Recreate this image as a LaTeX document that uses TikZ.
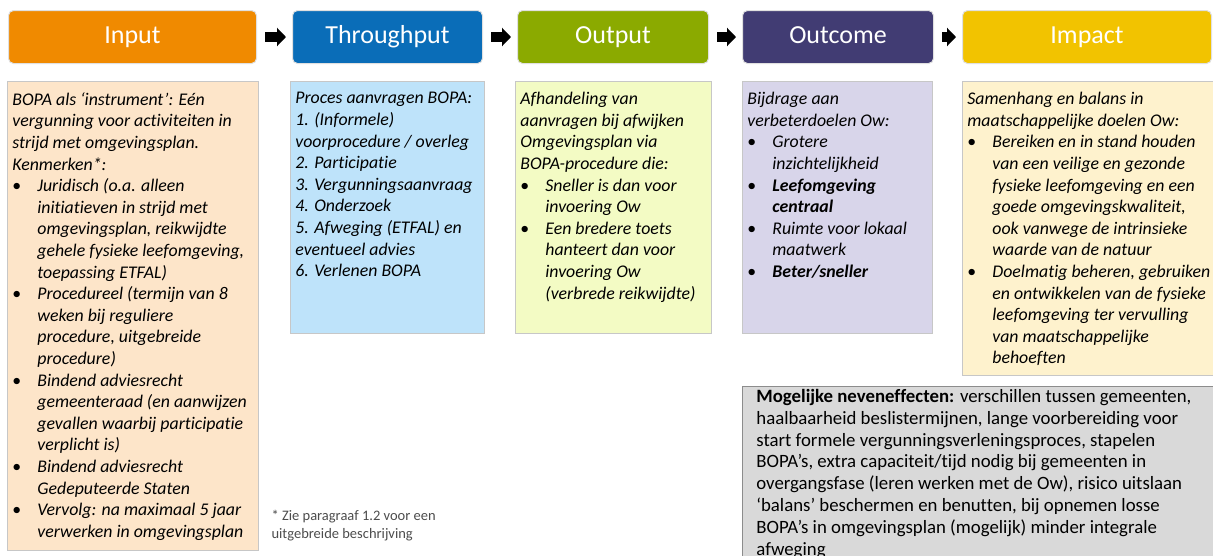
\documentclass[tikz,border=0pt]{standalone}
\usepackage{fontspec}
\setmainfont{Carlito}[Ligatures={NoCommon}]
\usepackage{enumitem}
\usetikzlibrary{arrows.meta}

\setlist[itemize]{nosep,leftmargin=25pt,labelwidth=20pt,labelsep=5pt,align=left,label={\upshape\textbullet}}

\definecolor{inHead}{HTML}{F08A00}
\definecolor{thrHead}{HTML}{0A6DB8}
\definecolor{outHead}{HTML}{8BAA00}
\definecolor{ocHead}{HTML}{413C73}
\definecolor{impHead}{HTML}{F2C300}
\definecolor{inFill}{HTML}{FDE5C9}
\definecolor{thrFill}{HTML}{BEE3FA}
\definecolor{outFill}{HTML}{F3FBC4}
\definecolor{ocFill}{HTML}{D8D5EA}
\definecolor{impFill}{HTML}{FEF2CD}
\definecolor{sideFill}{HTML}{D9D9D9}

% text block of a column: width, height, contents
\newcommand{\colbody}[3]{\parbox[c][#2pt][t]{#1pt}{\raggedright\vspace*{11pt}#3}}

\begin{document}
\begin{tikzpicture}[x=1pt, y=-1pt,
    head/.style={rounded corners=5pt, draw=black!12, line width=1pt,
                 anchor=north west, minimum height=53pt, text=white,
                 text height=17pt, text depth=5pt,
                 font=\fontsize{26}{30}\selectfont},
    colbox/.style={draw=black!22, line width=0.8pt, anchor=north west,
                   inner xsep=5pt, inner ysep=0pt,
                   font=\itshape\fontsize{17.8}{21.6}\selectfont},
    flow/.style={line width=10pt, -{Triangle[length=9pt,width=18pt]},
                 shorten <=8pt, shorten >=6pt},
    note/.style={anchor=north west, align=left, text=black!70,
                 font=\fontsize{14.5}{18}\selectfont}]

    \useasboundingbox (0,0) rectangle (1213,555);

    % headers
    \foreach \n/\x/\w/\c/\t in {hIn/8/248/inHead/Input,
                                hThr/292/190/thrHead/Throughput,
                                hOut/517/191/outHead/Output,
                                hOc/742/191/ocHead/Outcome,
                                hImp/962/249/impHead/Impact} {
        \node[head, fill=\c, minimum width=\w pt] (\n) at (\x,10) {\t};
    }

    \foreach \a/\b in {hIn/hThr, hThr/hOut, hOut/hOc, hOc/hImp} {
        \draw[flow] (\a) -- (\b);
    }

    % columns
    \node[colbox, fill=inFill, minimum width=251pt, minimum height=469pt] (cIn) at (7,81)
        {\colbody{241}{469}{BOPA als ‘instrument’: Eén\\
         vergunning voor activiteiten in\\
         strijd met omgevingsplan.\\
         Kenmerken*:
         \begin{itemize}
           \item Juridisch (o.a. alleen\\ initiatieven in strijd met\\ omgevingsplan, reikwijdte\\ gehele fysieke leefomgeving,\\ toepassing ETFAL)
           \item Procedureel (termijn van 8\\ weken bij reguliere\\ procedure, uitgebreide\\ procedure)
           \item Bindend adviesrecht\\ gemeenteraad (en aanwijzen\\ gevallen waarbij participatie\\ verplicht is)
           \item Bindend adviesrecht\\ Gedeputeerde Staten
           \item Vervolg: na maximaal 5 jaar\\ verwerken in omgevingsplan
         \end{itemize}}};

    \node[colbox, fill=thrFill, minimum width=194pt, minimum height=252pt] (cThr) at (290,81)
        {\colbody{184}{252}{Proces aanvragen BOPA:\\
         1. (Informele)\\
         voorprocedure / overleg\\
         2. Participatie\\
         3. Vergunningsaanvraag\\
         4. Onderzoek\\
         5. Afweging (ETFAL) en\\
         eventueel advies\\
         6. Verlenen BOPA}};

    \node[colbox, fill=outFill, minimum width=196pt, minimum height=252pt] (cOut) at (515,81)
        {\colbody{186}{252}{Afhandeling van\\
         aanvragen bij afwijken\\
         Omgevingsplan via\\
         BOPA-procedure die:
         \begin{itemize}
           \item Sneller is dan voor\\ invoering Ow
           \item Een bredere toets\\ hanteert dan voor\\ invoering Ow\\ (verbrede reikwijdte)
         \end{itemize}}};

    \node[colbox, fill=ocFill, minimum width=190pt, minimum height=252pt] (cOc) at (742,81)
        {\colbody{180}{252}{Bijdrage aan\\
         verbeterdoelen Ow:
         \begin{itemize}
           \item Grotere\\ inzichtelijkheid
           \item \textbf{Leefomgeving\\ centraal}
           \item Ruimte voor lokaal\\ maatwerk
           \item \textbf{Beter/sneller}
         \end{itemize}}};

    \node[colbox, fill=impFill, minimum width=254pt, minimum height=294pt] (cImp) at (962,81)
        {\colbody{244}{294}{Samenhang en balans in\\
         maatschappelijke doelen Ow:
         \begin{itemize}
           \item Bereiken en in stand houden\\ van een veilige en gezonde\\ fysieke leefomgeving en een\\ goede omgevingskwaliteit,\\ ook vanwege de intrinsieke\\ waarde van de natuur
           \item Doelmatig beheren, gebruiken\\ en ontwikkelen van de fysieke\\ leefomgeving ter vervulling\\ van maatschappelijke\\ behoeften
         \end{itemize}}};

    % side effects
    \node[colbox, fill=sideFill, draw=black!45, inner xsep=14pt, font=\fontsize{18.8}{21.8}\selectfont,
          minimum width=476pt, minimum height=180pt] (side) at (742,386)
        {\parbox[c][180pt][t]{448pt}{\raggedright\vspace*{3pt}%
         \textbf{Mogelijke neveneffecten:} verschillen tussen gemeenten,\\
         haalbaarheid beslistermijnen, lange voorbereiding voor\\
         start formele vergunningsverleningsproces, stapelen\\
         BOPA’s, extra capaciteit/tijd nodig bij gemeenten in\\
         overgangsfase (leren werken met de Ow), risico uitslaan\\
         ‘balans’ beschermen en benutten, bij opnemen losse\\
         BOPA’s in omgevingsplan (mogelijk) minder integrale\\
         afweging}};

    \node[note] (fn) at (268,507) {* Zie paragraaf 1.2 voor een\\ uitgebreide beschrijving};
\end{tikzpicture}
\end{document}
